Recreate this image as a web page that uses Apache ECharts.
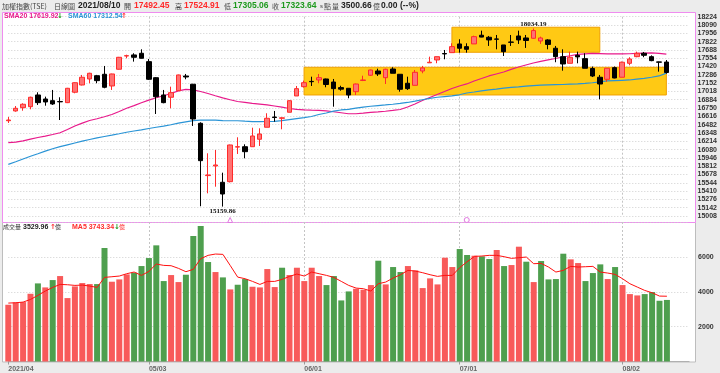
<!DOCTYPE html>
<html><head><meta charset="utf-8">
<script src="https://cdn.jsdelivr.net/npm/echarts@6/dist/echarts.min.js"></script>
<style>html,body{margin:0;padding:0;background:#ececec}#c{width:720px;height:373px}</style>
</head><body><div id="c"></div><script>
// ---- data ----
const dates = [
'2021/04/06','2021/04/07','2021/04/08','2021/04/09','2021/04/12','2021/04/13','2021/04/14','2021/04/15','2021/04/16','2021/04/19',
'2021/04/20','2021/04/21','2021/04/22','2021/04/23','2021/04/26','2021/04/27','2021/04/28','2021/04/29','2021/04/30','2021/05/03',
'2021/05/04','2021/05/05','2021/05/06','2021/05/07','2021/05/10','2021/05/11','2021/05/12','2021/05/13','2021/05/14','2021/05/17',
'2021/05/18','2021/05/19','2021/05/20','2021/05/21','2021/05/24','2021/05/25','2021/05/26','2021/05/27','2021/05/28','2021/05/31',
'2021/06/01','2021/06/02','2021/06/03','2021/06/04','2021/06/07','2021/06/08','2021/06/09','2021/06/10','2021/06/11','2021/06/15',
'2021/06/16','2021/06/17','2021/06/18','2021/06/21','2021/06/22','2021/06/23','2021/06/24','2021/06/25','2021/06/28','2021/06/29',
'2021/06/30','2021/07/01','2021/07/02','2021/07/05','2021/07/06','2021/07/07','2021/07/08','2021/07/09','2021/07/12','2021/07/13',
'2021/07/14','2021/07/15','2021/07/16','2021/07/19','2021/07/20','2021/07/21','2021/07/22','2021/07/23','2021/07/26','2021/07/27',
'2021/07/28','2021/07/29','2021/07/30','2021/08/02','2021/08/03','2021/08/04','2021/08/05','2021/08/06','2021/08/09','2021/08/10'];
const opens = [16545,16703,16756,16772,16961,16896,16869,16856,16837,17005,
17122,17219,17272,17295,17106,17376,17590,17607,17634,17499,
17240,16961,16924,17030,17267,17134,16504,15660,15815,15552,
15562,16120,16126,16126,16246,16440,16605,16585,16682,16945,
17095,17180,17203,17219,17170,17080,17069,17014,17195,17279,
17348,17240,17380,17295,17150,17117,17348,17480,17526,17630,
17644,17784,17741,17785,17925,17892,17865,17768,17815,17913,
17881,17876,17832,17849,17715,17579,17472,17601,17547,17388,
17247,17214,17402,17247,17472,17579,17634,17579,17495,17492.45];
const closes = [16557,16746,16811,16924,16837,16848,16816,16850,17069,17159,
17247,17311,17192,17085,17300,17569,17595,17569,17553,17214,
16933,16837,16998,17284,17251,16573,15901,15670,15831,15363,
16154,16126,16046,16299,16331,16585,16597,16592,16869,17063,
17159,17175,17240,17130,17063,17055,16961,17138,17203,17364,
17300,17376,17311,17053,17063,17327,17397,17489,17579,17623,
17741,17715,17698,17902,17895,17849,17860,17660,17811,17849,
17840,18000,17881,17776,17579,17461,17569,17575,17392,17267,
17138,17392,17235,17489,17542,17634,17601,17515,17489,17323.64];
const lows = [16509,16691,16707,16730,16800,16788,16800,16557,16830,16988,
17115,17150,17150,17069,17042,17370,17553,17499,17550,17203,
16654,16827,16746,17025,17214,16461,15165.52,15374,15481,15159.86,
15550,16009,15939,16126,16138,16440,16530,16407,16682,16945,
17080,17106,17150,17085,16772,17030,16908,16961,17185,17270,
17268,17138,17311,17014,17042,17117,17311,17480,17473,17537,
17644,17644,17644,17785,17892,17752,17698,17590,17752,17784,
17720,17870,17785,17698,17489,17353,17472,17472,17392,17250,
16891,17175,17230,17247,17440,17570,17570,17505,17337,17305.06];
const highs = [16606,16783,16827,16934,17004,16934,17042,16924,17075,17165,
17284,17320,17285,17429,17305,17575,17611,17634,17698,17542,
17250,17042,17095,17290,17300,17140,16520,16020,16073,15707,
16160,16278,16165,16433,16423,16666,16703,16601,16872,17106,
17192,17256,17300,17225,17219,17110,17069,17145,17272,17370,
17385,17385,17408,17295,17256,17364,17430,17579,17579,17687,
17795,17860,17795,17918,17999,17913,17929,17768,17929,17999,
17929,18034.19,17902,17860,17752,17698,17660,17660,17634,17420,
17284,17392,17420,17500,17570,17660,17655,17600,17499,17524.91];
const sma20 = [16191,16201,16219,16248,16275,16296,16323,16352,16404,16461,
16506,16549,16577,16609,16646,16695,16746,16790,16835,16877,
16916,16948,16985,17026,17050,17042,17017,16985,16948,16913,
16884,16856,16840,16824,16813,16800,16783,16764,16743,16730,
16722,16716,16711,16703,16690,16674,16658,16658,16667,16679,
16687,16698,16711,16727,16767,16816,16872,16921,16969,17017,
17066,17106,17139,17187,17227,17268,17300,17332,17373,17413,
17445,17477,17502,17526,17550,17574,17594,17615,17623,17631,
17628,17623,17623,17623,17626,17631,17636,17639,17631,17619.92];
const sma60 = [15842,15883,15928,15973,16012,16054,16093,16127,16157,16186,
16215,16243,16270,16291,16312,16335,16359,16380,16399,16420,
16440,16457,16480,16506,16528,16546,16554,16557,16554,16548,
16545,16545,16538,16532,16530,16533,16536,16548,16564,16580,
16596,16614,16646,16670,16699,16719,16730,16748,16764,16779,
16790,16800,16811,16824,16840,16861,16884,16905,16924,16935,
16945,16964,16993,17009,17026,17042,17055,17071,17085,17093,
17103,17111,17119,17124,17127,17130,17135,17139,17148,17158,
17171,17187,17193,17198,17203,17216,17229,17247,17268,17312.54];
const volumes = [3254,3388,3407,3885,4479,4249,4670,4900,3637,4307,
4498,4440,4440,6508,4575,4708,4996,5091,5474,5933,
6661,4613,4957,4555,4976,7197,7771,5704,5130,4823,
4134,4402,4728,4287,4249,5302,4268,5378,4957,5378,
4613,5378,4900,4383,4900,3503,4019,4173,4115,4383,
5780,4421,5417,5130,5474,5225,4211,4766,4421,5953,
5417,6450,6106,6067,6029,5876,6393,5474,5531,6584,
5723,4555,5761,4708,4728,6182,5857,5646,4613,5072,
5570,4728,5417,4383,3866,3790,3866,3981,3483,3530];
// 1 = red bar (up), 0 = green bar (down)
const volumeUp = [1,1,1,1,0,1,0,1,1,1, 1,1,0,0,1,1,1,0,0,0, 0,0,1,1,0,0,0,0,1,0,
1,0,0,1,1,1,1,0,1,1, 1,1,1,0,0,0,0,1,1,1, 0,1,0,0,1,1,1,1,1,1,
1,0,0,1,0,0,1,0,1,1, 0,1,0,0,0,0,1,1,0,0, 0,1,0,1,1,1,0,0,0,0];
const volMA5 = [3350,3369,3407,3560,3790,4039,4249,4421,4402,4364,
4383,4326,4249,4823,4862,4900,5034,5130,4938,5168,
5589,5512,5493,5340,5149,5283,5895,6087,6163,6144,
5500,4840,4747,4594,4421,4594,4594,4708,4881,5015,
4900,5130,5034,4938,4823,4594,4364,4211,4173,4039,
4460,4555,4785,4976,5225,5187,5091,4976,4881,4938,
4938,5380,5720,6029,6048,6087,6087,6010,5914,5953,
5991,5608,5627,5417,5130,5225,5455,5417,5436,5455,
5130,5072,4996,4747,4460,4268,4077,3943,3751,3743.34];
const monthStarts = ['2021/04/06','2021/05/03','2021/06/01','2021/07/01','2021/08/02'];
const monthLabels = ['2021/04','05/03','06/01','07/01','08/02'];
const priceMin = 15008, priceMax = 18224, priceStep = 134;
const volMin = 0, volMax = 8000, volStep = 2000;
const boxFrom = ['2021/06/30','2021/06/01'];
const boxTo = ['2021/07/28','2021/08/10'];
const boxHigh = [18054, 17408];
const boxLow = [17650, 16961];
const noteDates = ['2021/07/15','2021/05/17'];
const noteValues = [18034.19, 15159.86];
const flagDates = ['2021/05/18','2021/07/02'];
const flagSymbols = ['triangle','circle'];

// ---- chart ----
const cats = dates.concat([' ', '  ', '   ']);
const monthIdx = monthStarts.map(d => dates.indexOf(d));
const lineIdx = monthIdx.slice(1);
const F = 'Liberation Sans, Arial, sans-serif';
const CJK = 'Noto Sans CJK TC, sans-serif';
const RED = '#ff2a2a', GREEN = '#1e9a1e';

const chart = echarts.init(document.getElementById('c'), null, {renderer: 'canvas'});

function t(x, y, text, fill, font) {
  return {type: 'text', x: x, y: y, z: 100, style: {text: text, fill: fill, font: font, verticalAlign: 'middle'}};
}
const B9 = 'bold 8.5px ' + F, N7 = '7px ' + CJK, B7 = 'bold 7px ' + F, AR = 'bold 7px DejaVu Sans';

const gridCommon = {left: 8.3, right: 30.9};
const xBase = {
  type: 'category', data: cats, boundaryGap: false,
  axisTick: {show: false}, axisLine: {show: false},
  splitLine: {show: true, interval: (i) => lineIdx.indexOf(i) >= 0,
    lineStyle: {color: '#c4c4c4', type: [2, 2], width: 1}}
};

const notePoints = noteDates.map((d, k) => ({coord: [d, noteValues[k]], value: noteValues[k], symbolSize: 0,
  label: {show: true, position: k === 0 ? 'top' : 'bottom', distance: 1,
    formatter: () => noteValues[k].toFixed(2), color: '#111', fontSize: 7,
    fontFamily: 'Liberation Serif, serif', fontWeight: 'bold'}}));
const flagPoints = flagDates.map((d, k) => ({coord: [d, priceMin], symbol: flagSymbols[k], symbolSize: 5,
  symbolOffset: [0, 4], label: {show: false},
  itemStyle: {color: '#ffffff', borderColor: '#e27ae2', borderWidth: 1}}));

chart.setOption({
  animation: false,
  backgroundColor: '#ececec',
  graphic: [
    {type: 'rect', z: -1, shape: {x: 2.5, y: 222.5, width: 693, height: 139.5},
      style: {fill: '#ffffff', stroke: '#bdbdbd', lineWidth: 1}},
    {type: 'rect', z: -1, shape: {x: 2.5, y: 12.5, width: 693, height: 210},
      style: {fill: '#ffffff', stroke: '#ef8cef', lineWidth: 1}},
    t(2, 6, '加權指數(TSE)', '#444', N7),
    t(54, 6, '日線圖', '#444', N7),
    t(78, 6, '2021/08/10', '#222', B9),
    t(124, 6, '開', '#444', N7),
    t(134, 6, '17492.45', RED, B9),
    t(175, 6, '高', '#444', N7),
    t(184, 6, '17524.91', RED, B9),
    t(224, 6, '低', '#444', N7),
    t(233, 6, '17305.06', GREEN, B9),
    t(272, 6, '收', '#444', N7),
    t(281, 6, '17323.64', GREEN, B9),
    t(320, 6, 's', '#444', '6px ' + F),
    t(324, 6, '點', '#444', N7),
    t(332, 6, '量', '#444', N7),
    t(341, 6, '3500.66', '#222', B9),
    t(373, 6, '億', '#444', N7),
    t(381, 6, '0.00 (--%)', '#222', B9),
    t(4, 16, 'SMA20 17619.92', '#e8198b', B7),
    t(57, 16, '↓', GREEN, AR),
    t(68, 16, 'SMA60 17312.54', '#2a94d6', B7),
    t(121, 16, '↑', RED, AR),
    t(3, 227, '成交量', '#333', '6px ' + CJK),
    t(23, 227, '3529.96', '#222', B7),
    t(50, 227, '↑', RED, AR),
    t(55, 227, '億', '#333', '6px ' + CJK),
    t(72, 227, 'MA5 3743.34', RED, B7),
    t(114, 227, '↓', GREEN, AR),
    t(119, 227, '億', RED, '6px ' + CJK)
  ],
  grid: [
    Object.assign({top: 16.7, bottom: 157}, gridCommon),
    Object.assign({top: 222, bottom: 11.5}, gridCommon)
  ],
  xAxis: [
    Object.assign({gridIndex: 0, axisLabel: {show: false}}, xBase),
    Object.assign({}, xBase, {
      gridIndex: 1,
      axisLine: {show: true, lineStyle: {color: '#b0b0b0'}},
      axisTick: {show: true, length: 3, interval: (i) => monthIdx.indexOf(i) >= 0, lineStyle: {color: '#999'}},
      axisLabel: {show: true, interval: (i) => monthIdx.indexOf(i) >= 0, align: 'left', margin: 4,
        color: '#666', fontSize: 7, fontFamily: F, fontWeight: 'bold',
        formatter: (v) => { const k = monthStarts.indexOf(v); return k >= 0 ? monthLabels[k] : ''; }}
    })
  ],
  yAxis: [
    {gridIndex: 0, type: 'value', position: 'right', min: priceMin, max: priceMax, interval: priceStep,
      axisLine: {show: false}, axisTick: {show: false},
      axisLabel: {margin: 9, color: '#333', fontSize: 7, fontWeight: 'bold', fontFamily: F, formatter: (v) => String(v)},
      splitLine: {lineStyle: {color: '#cfcfcf', type: [1, 2]}}},
    {gridIndex: 1, type: 'value', position: 'right', min: volMin, max: volMax, interval: volStep,
      axisLine: {show: false}, axisTick: {show: false},
      axisLabel: {margin: 9, color: '#333', fontSize: 7, fontWeight: 'bold', fontFamily: F,
        showMinLabel: false, showMaxLabel: false, formatter: (v) => String(v)},
      splitLine: {lineStyle: {color: '#cfcfcf', type: [1, 2]}}}
  ],
  series: [
    {type: 'candlestick', xAxisIndex: 0, yAxisIndex: 0, z: 3, barWidth: 5, clip: false,
      data: dates.map((d, i) => [opens[i], closes[i], lows[i], highs[i]]),
      itemStyle: {color: '#ff7373', color0: '#000000', borderColor: '#ff2b2b', borderColor0: '#000000', borderWidth: 1},
      markArea: {silent: true,
        itemStyle: {color: '#ffc914', borderColor: '#f0a000', borderWidth: 1, opacity: 1},
        data: boxFrom.map((f, k) => [{xAxis: f, yAxis: boxHigh[k]}, {xAxis: boxTo[k], yAxis: boxLow[k]}])},
      markPoint: {silent: true, symbol: 'circle', symbolSize: 0, data: notePoints.concat(flagPoints)}
    },
    {type: 'line', name: 'SMA20', xAxisIndex: 0, yAxisIndex: 0, z: 2, data: sma20, symbol: 'none',
      lineStyle: {color: '#e8198b', width: 1.2}},
    {type: 'line', name: 'SMA60', xAxisIndex: 0, yAxisIndex: 0, z: 2, data: sma60, symbol: 'none',
      lineStyle: {color: '#2a94d6', width: 1.2}},
    {type: 'bar', xAxisIndex: 1, yAxisIndex: 1, barWidth: 6, z: 2,
      data: volumes.map((v, i) => ({value: v, itemStyle: {color: volumeUp[i] ? '#f85a5a' : '#4e9f4e'}}))},
    {type: 'line', xAxisIndex: 1, yAxisIndex: 1, z: 3, data: volMA5, symbol: 'none',
      lineStyle: {color: '#ff1010', width: 1}}
  ]
});
</script></body></html>
